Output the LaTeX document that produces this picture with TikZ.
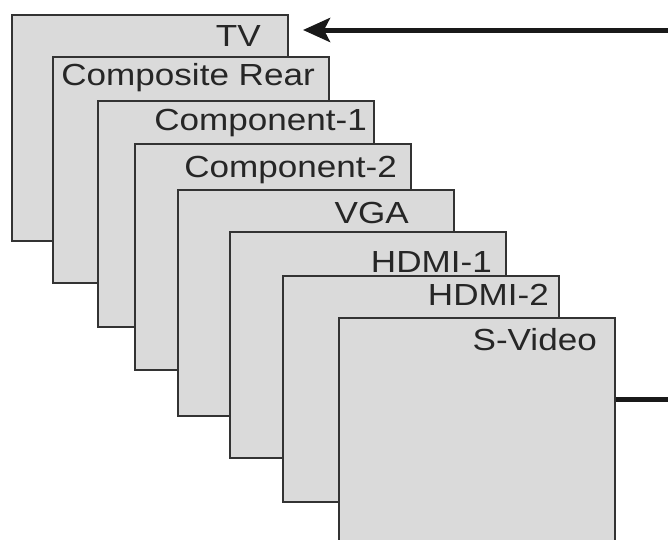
\documentclass[tikz,border=0pt]{standalone}
\usepackage{fontspec}
\usepackage{tikz}
\usetikzlibrary{arrows.meta}
\newfontfamily\panelfont[FakeStretch=1.15]{Liberation Sans}
\definecolor{panelgray}{HTML}{DADADA}
\definecolor{edgegray}{HTML}{333333}

\begin{document}
\begin{tikzpicture}[x=1pt,y=-1pt,
	panel/.style={draw=edgegray,line width=1.6pt,fill=panelgray,inner sep=0pt,
		minimum width=276pt,minimum height=226pt,anchor=north west},
	tag/.style={anchor=base east,inner sep=0pt,text=black!85,
		font=\panelfont\fontsize{30.5}{30}\selectfont}]

	\useasboundingbox (0,0) rectangle (668,539);
	\clip (0,0) rectangle (668,539);

	% back to front
	\node[panel] (tv) at (11,14) {};
	\node[tag] (tvl) at (261,46) {TV};
	\node[panel] (cr) at (52,56) {};
	\node[tag] (crl) at (315,85) {Composite Rear};
	\node[panel] (ca) at (97,100) {};
	\node[tag] (cal) at (367,130) {Component-1};
	\node[panel] (cb) at (134,143) {};
	\node[tag] (cbl) at (397,177) {Component-2};
	\node[panel] (vga) at (177,189) {};
	\node[tag] (vgal) at (409,223) {VGA};
	\node[panel] (ha) at (229,231) {};
	\node[tag] (hal) at (492,272) {HDMI-1};
	\node[panel] (hb) at (282,275) {};
	\node[tag] (hbl) at (549,305) {HDMI-2};
	\node[panel] (sv) at (338,317) {};
	\node[tag] (svl) at (597,350) {S-Video};

	\coordinate (feed) at (668,30);
	\coordinate (feedtip) at (303,30);
	\coordinate (out) at (668,399);
	\draw[line width=5pt,black!90,-{Stealth[length=27pt,width=24pt,inset=6pt]}] (feed) -- (feedtip);
	\draw[line width=5pt,black!90] (sv.east |- out) -- (out);
\end{tikzpicture}
\end{document}
